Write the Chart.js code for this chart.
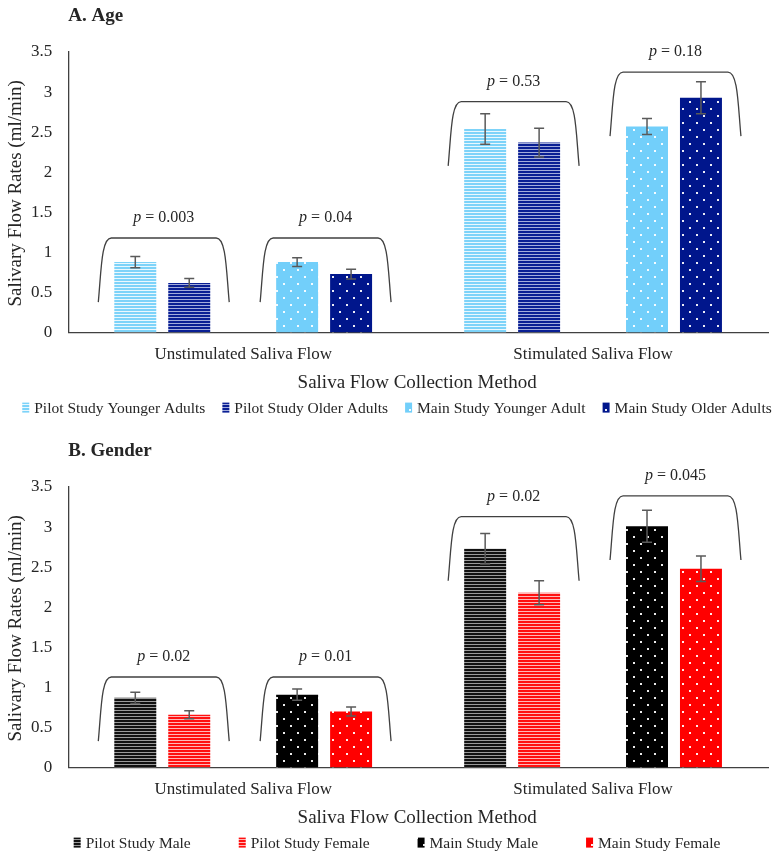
<!DOCTYPE html>
<html>
<head>
<meta charset="utf-8">
<script src="https://cdn.jsdelivr.net/npm/chart.js@4.4.1/dist/chart.umd.min.js"></script>
<style>
  body { margin: 0; background: #fff; }
  .panel { position: absolute; left: 0; width: 782px; height: 421px; }
  #panelA { top: 0; }
  #panelB { top: 435px; }
</style>
</head>
<body>
<div class="panel" id="panelA"><canvas id="ageChart" width="782" height="421"></canvas></div>
<div class="panel" id="panelB"><canvas id="genderChart" width="782" height="421"></canvas></div>
<script>
const FONT = "'Liberation Serif', 'Times New Roman', serif";
const TEXT = "#262626";

const categories = ["Unstimulated Saliva Flow", "Stimulated Saliva Flow"];
const xTitle = "Saliva Flow Collection Method";
const yTitle = "Salivary Flow Rates (ml/min)";

// --- A. Age ---
const ageNames = ["Pilot Study Younger Adults", "Pilot Study Older Adults", "Main Study Younger Adult", "Main Study Older Adults"];
const pilotYoung = [0.88, 2.54];
const pilotOld = [0.62, 2.37];
const mainYoung = [0.88, 2.57];
const mainOld = [0.73, 2.93];
const pilotYoungErr = [0.07, 0.19];
const pilotOldErr = [0.055, 0.18];
const mainYoungErr = [0.055, 0.10];
const mainOldErr = [0.06, 0.20];
const ageBracketTops = [1.18, 1.18, 2.88, 3.25];
const agePValues = ["0.003", "0.04", "0.53", "0.18"];

// --- B. Gender ---
const genderNames = ["Pilot Study Male", "Pilot Study Female", "Main Study Male", "Main Study Female"];
const pilotMale = [0.87, 2.73];
const pilotFemale = [0.66, 2.18];
const mainMale = [0.91, 3.01];
const mainFemale = [0.70, 2.48];
const pilotMaleErr = [0.07, 0.19];
const pilotFemaleErr = [0.05, 0.15];
const mainMaleErr = [0.07, 0.20];
const mainFemaleErr = [0.055, 0.16];
const genderBracketTops = [1.13, 1.13, 3.13, 3.39];
const genderPValues = ["0.02", "0.01", "0.02", "0.045"];

// bracket pairs: [first series, second series, category]
const bracketPairs = [[0, 1, 0], [2, 3, 0], [0, 1, 1], [2, 3, 1]];
const bracketDrop = 0.8;

// --- Fill patterns ---
const stripes = (line, gap) => {
  const c = document.createElement("canvas");
  c.width = 6; c.height = 3;
  const g = c.getContext("2d");
  g.fillStyle = gap; g.fillRect(0, 0, 6, 3);
  g.fillStyle = line; g.fillRect(0, 0, 6, 2);
  return g.createPattern(c, "repeat");
};

const dots = (base) => {
  const c = document.createElement("canvas");
  c.width = 14; c.height = 14;
  const g = c.getContext("2d");
  g.fillStyle = base; g.fillRect(0, 0, 14, 14);
  g.fillStyle = "rgba(255,255,255,0.92)";
  g.fillRect(3, 3, 2, 2);
  g.fillRect(10, 10, 2, 2);
  return g.createPattern(c, "repeat");
};

// series index -> dataset index (a blank spacer dataset sits in the middle)
const dsIndex = [0, 1, 3, 4];

const makeOverlay = (panel) => ({
  id: "overlay",
  afterDatasetsDraw(chart) {
    const { ctx, scales: { y } } = chart;
    ctx.save();

    // error bars
    ctx.strokeStyle = "#5a5a5a";
    ctx.lineWidth = 1.5;
    panel.series.forEach((values, si) => {
      const meta = chart.getDatasetMeta(dsIndex[si]);
      meta.data.forEach((bar, j) => {
        const top = y.getPixelForValue(values[j] + panel.errors[si][j]);
        const bot = y.getPixelForValue(values[j] - panel.errors[si][j]);
        ctx.beginPath();
        ctx.moveTo(bar.x, top); ctx.lineTo(bar.x, bot);
        ctx.moveTo(bar.x - 5, top); ctx.lineTo(bar.x + 5, top);
        ctx.moveTo(bar.x - 5, bot); ctx.lineTo(bar.x + 5, bot);
        ctx.stroke();
      });
    });

    // brackets with p values
    ctx.strokeStyle = "#404040";
    ctx.lineWidth = 1.3;
    bracketPairs.forEach(([a, b, cat], k) => {
      const barA = chart.getDatasetMeta(dsIndex[a]).data[cat];
      const barB = chart.getDatasetMeta(dsIndex[b]).data[cat];
      const x0 = barA.x - barA.width / 2 - 16;
      const x1 = barB.x + barB.width / 2 + 19;
      const yt = y.getPixelForValue(panel.bracketTops[k]);
      const yb = y.getPixelForValue(panel.bracketTops[k] - bracketDrop);
      ctx.beginPath();
      ctx.moveTo(x0, yb);
      ctx.bezierCurveTo(x0 + 3, yt + (yb - yt) * 0.5, x0 + 3, yt, x0 + 13, yt);
      ctx.lineTo(x1 - 13, yt);
      ctx.bezierCurveTo(x1 - 3, yt, x1 - 3, yt + (yb - yt) * 0.5, x1, yb);
      ctx.stroke();

      const italic = "italic 16px " + FONT;
      const roman = "16px " + FONT;
      const rest = " = " + panel.pValues[k];
      ctx.font = italic;
      const wp = ctx.measureText("p").width;
      ctx.font = roman;
      const wr = ctx.measureText(rest).width;
      const cx = (x0 + x1) / 2;
      const start = cx - (wp + wr) / 2;
      ctx.fillStyle = TEXT;
      ctx.textBaseline = "middle";
      ctx.textAlign = "left";
      ctx.font = italic;
      ctx.fillText("p", start, yt - 20);
      ctx.font = roman;
      ctx.fillText(rest, start + wp, yt - 20);
    });
    ctx.restore();
  },
  afterDraw(chart) {
    const { ctx, chartArea } = chart;
    ctx.save();
    ctx.fillStyle = TEXT;
    ctx.textBaseline = "middle";
    ctx.textAlign = "left";
    ctx.font = "bold 19px " + FONT;
    ctx.fillText(panel.title, chartArea.left, 16);

    // axis titles
    ctx.font = "19px " + FONT;
    ctx.textAlign = "center";
    ctx.fillText(xTitle, (chartArea.left + chartArea.right) / 2 - 1, chartArea.bottom + 50);
    ctx.save();
    ctx.translate(16, (chartArea.top + chartArea.bottom) / 2 + 1);
    ctx.rotate(-Math.PI / 2);
    ctx.fillText(yTitle, 0, 0);
    ctx.restore();

    // legend
    ctx.textAlign = "left";
    ctx.font = "15.5px " + FONT;
    const widths = panel.names.map((n) => 12 + ctx.measureText(n).width);
    const total = widths.reduce((s, w) => s + w, 0) + panel.legendGap * (widths.length - 1);
    let x = 397 - total / 2;
    const ly = chartArea.bottom + 75;
    panel.names.forEach((name, i) => {
      ctx.fillStyle = panel.fills[i];
      ctx.fillRect(x, ly - 5, 7, 10);
      ctx.fillStyle = TEXT;
      ctx.fillText(name, x + 12, ly + 1);
      x += widths[i] + panel.legendGap;
    });
    ctx.restore();
  },
});

const makeChart = (canvasId, panel) => {
  const datasets = panel.series.map((values, i) => ({
    label: panel.names[i],
    data: values,
    backgroundColor: panel.fills[i],
    borderWidth: 0,
  }));
  datasets.splice(2, 0, { label: "", data: categories.map(() => null) });

  return new Chart(document.getElementById(canvasId), {
    type: "bar",
    data: { labels: categories, datasets },
    options: {
      responsive: false,
      animation: false,
      layout: { padding: { top: 52, right: 14, bottom: 44, left: 15 } },
      datasets: { bar: { barPercentage: 0.778, categoryPercentage: 0.771 } },
      plugins: { legend: { display: false }, tooltip: { enabled: false } },
      scales: {
        x: {
          grid: { display: false, drawTicks: false },
          border: { color: "#404040", width: 1.3 },
          ticks: { color: TEXT, padding: 12, font: { family: FONT, size: 17 } },
        },
        y: {
          min: 0,
          max: 3.5,
          grid: { display: false, drawTicks: false },
          border: { color: "#404040", width: 1.3 },
          ticks: {
            stepSize: 0.5,
            color: TEXT,
            padding: 16,
            font: { family: FONT, size: 17 },
            callback: (v) => String(+v.toFixed(1)),
          },
        },
      },
    },
    plugins: [makeOverlay(panel)],
  });
};

makeChart("ageChart", {
  title: "A. Age",
  names: ageNames,
  series: [pilotYoung, pilotOld, mainYoung, mainOld],
  errors: [pilotYoungErr, pilotOldErr, mainYoungErr, mainOldErr],
  fills: [stripes("#7dd3f9", "#eaf8fe"), stripes("#0a1f94", "#a3acdb"), dots("#72cffa"), dots("#00168c")],
  bracketTops: ageBracketTops,
  pValues: agePValues,
  legendGap: 17,
});

makeChart("genderChart", {
  title: "B. Gender",
  names: genderNames,
  series: [pilotMale, pilotFemale, mainMale, mainFemale],
  errors: [pilotMaleErr, pilotFemaleErr, mainMaleErr, mainFemaleErr],
  fills: [stripes("#111111", "#9a9a9a"), stripes("#ff1010", "#ffb8b8"), dots("#000000"), dots("#ff0000")],
  bracketTops: genderBracketTops,
  pValues: genderPValues,
  legendGap: 48,
});
</script>
</body>
</html>
